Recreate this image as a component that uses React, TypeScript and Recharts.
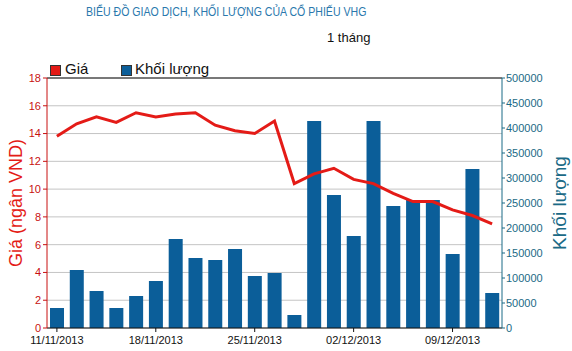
import * as React from "react";
import { ComposedChart, Bar, Line, XAxis, YAxis, CartesianGrid, ReferenceLine } from "recharts";

const dates = [
  "11/11/2013", "12/11/2013", "13/11/2013", "14/11/2013", "15/11/2013",
  "18/11/2013", "19/11/2013", "20/11/2013", "21/11/2013", "22/11/2013",
  "25/11/2013", "26/11/2013", "27/11/2013", "28/11/2013", "29/11/2013",
  "02/12/2013", "03/12/2013", "04/12/2013", "05/12/2013", "06/12/2013",
  "09/12/2013", "10/12/2013", "11/12/2013",
];

const prices = [
  13.8, 14.7, 15.2, 14.8, 15.5, 15.2, 15.4, 15.5, 14.6, 14.2, 14.0, 14.9,
  10.4, 11.1, 11.5, 10.7, 10.4, 9.7, 9.1, 9.1, 8.5, 8.1, 7.5,
];

const volumes = [
  40000, 116000, 74000, 40000, 64000, 94000, 178000, 140000, 136000, 158000,
  104000, 110000, 26000, 414000, 266000, 184000, 414000, 244000, 256000,
  256000, 148000, 318000, 70000,
];

const priceTicks = [0, 2, 4, 6, 8, 10, 12, 14, 16, 18];
const volumeTicks = [0, 50000, 100000, 150000, 200000, 250000, 300000, 350000, 400000, 450000, 500000];
const dateTicks = ["11/11/2013", "18/11/2013", "25/11/2013", "02/12/2013", "09/12/2013"];

const data = dates.map((d, i) => ({ date: d, price: prices[i], volume: volumes[i] }));

const FONT = "'Liberation Sans', Arial, sans-serif";
const RED = "#e41b17";
const BLUE = "#0b5e99";
const TEAL = "#1b6a86";

const swatch = (color: string, left: number) => (
  <span style={{ position: "absolute", left, top: 65, width: 9, height: 9, background: color, border: "1px solid #333" }} />
);

// legend drawn as plain html so it doesn't push the plot down
const LegendBox = () => (
  <div style={{ position: "absolute", left: 0, top: 0, fontSize: 15, color: "#111", whiteSpace: "nowrap" }}>
    {swatch(RED, 50)}
    <span style={{ position: "absolute", left: 65, top: 60 }}>Giá</span>
    {swatch(BLUE, 121)}
    <span style={{ position: "absolute", left: 135, top: 60 }}>Khối lượng</span>
  </div>
);

export default function App() {
  return (
    <div style={{ position: "absolute", left: 0, top: 0, width: 572, height: 351, background: "#fff", fontFamily: FONT }}>
      <div style={{ position: "absolute", left: 86, top: 5, fontSize: 12, color: "#2a78ad", whiteSpace: "nowrap", transform: "scaleX(0.88)", transformOrigin: "left" }}>
        BIỂU ĐỒ GIAO DỊCH, KHỐI LƯỢNG CỦA CỔ PHIẾU VHG
      </div>
      <div style={{ position: "absolute", left: 327, top: 30, fontSize: 13, color: "#111" }}>1 tháng</div>
      <LegendBox />
      <ComposedChart width={572} height={351} data={data} margin={{ top: 78, right: 0, bottom: 0, left: 0 }}>
        <CartesianGrid horizontal vertical={false} stroke="#c4c4c4" yAxisId="left" />
        <XAxis
          dataKey="date"
          ticks={dateTicks}
          height={23}
          tick={{ fontSize: 11, fill: "#111", fontFamily: FONT }}
          axisLine={{ stroke: "#111" }}
          tickLine={{ stroke: "#111" }}
          tickSize={4}
          tickMargin={4}
        />
        <YAxis
          yAxisId="left"
          orientation="left"
          width={47}
          domain={[0, 18]}
          ticks={priceTicks}
          interval={0}
          tick={{ fontSize: 11, fill: "#c81010", fontFamily: FONT }}
          axisLine={{ stroke: "#c81010" }}
          tickLine={{ stroke: "#c81010" }}
          tickSize={4}
          label={{ value: "Giá (ngân VND)", angle: -90, position: "insideLeft", offset: 16, style: { fontSize: 18, fill: RED, fontFamily: FONT, textAnchor: "middle" } }}
        />
        <YAxis
          yAxisId="right"
          orientation="right"
          width={70}
          domain={[0, 500000]}
          ticks={volumeTicks}
          interval={0}
          tick={{ fontSize: 11, fill: TEAL, fontFamily: FONT }}
          axisLine={{ stroke: TEAL }}
          tickLine={{ stroke: TEAL }}
          tickSize={3}
          tickMargin={1}
          label={{ value: "Khối lượng", angle: -90, position: "insideRight", offset: 13, style: { fontSize: 19, fill: TEAL, fontFamily: FONT, textAnchor: "middle" } }}
        />
        <ReferenceLine yAxisId="left" y={18} stroke="#111" />
        <Bar yAxisId="right" dataKey="volume" name="Khối lượng" fill={BLUE} barSize={14} isAnimationActive={false} />
        <Line yAxisId="left" dataKey="price" name="Giá" type="linear" stroke={RED} strokeWidth={3} dot={false} activeDot={false} isAnimationActive={false} />
      </ComposedChart>
    </div>
  );
}
